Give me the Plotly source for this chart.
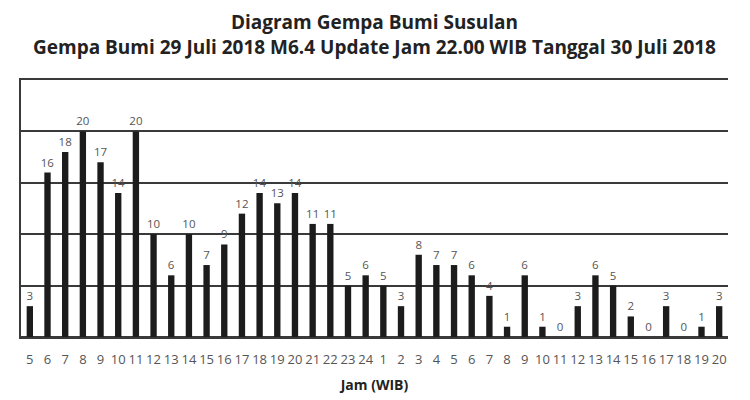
import plotly.graph_objects as go

hours = ["5","6","7","8","9","10","11","12","13","14","15","16","17","18","19","20",
         "21","22","23","24","1","2","3","4","5","6","7","8","9","10","11","12","13",
         "14","15","16","17","18","19","20"]
counts = [3,16,18,20,17,14,20,10,6,10,7,9,12,14,13,14,11,11,5,6,
          5,3,8,7,7,6,4,1,6,1,0,3,6,5,2,0,3,0,1,3]

pos = list(range(len(hours)))
lbl_font = dict(family="Open Sans", size=11.5, color="#555555")

fig = go.Figure(go.Bar(
    x=pos, y=counts, text=[str(v) for v in counts],
    textposition="outside", cliponaxis=False, constraintext="none",
    textfont=lbl_font, outsidetextfont=lbl_font,
    marker=dict(color="#1c1c1c", line=dict(width=0)),
    width=0.36,
))

fig.update_layout(
    width=750, height=400,
    margin=dict(l=13, r=30, t=72, b=71, autoexpand=False),
    paper_bgcolor="white", plot_bgcolor="white",
    showlegend=False,
    title=dict(
        text="Diagram Gempa Bumi Susulan<br>Gempa Bumi 29 Juli 2018 M6.4 Update Jam 22.00 WIB Tanggal 30 Juli 2018",
        x=0.5, xanchor="center", xref="paper", y=0.9475, yanchor="top",
        font=dict(family="Open Sans", size=19, color="#222222", weight="bold"),
    ),
    xaxis=dict(
        tickmode="array", tickvals=pos, ticktext=hours,
        range=[-0.5, len(hours) - 0.5],
        showgrid=False, zeroline=False, ticks="",
        showline=True, mirror=True, linecolor="#3a3a3a", linewidth=1.5,
        ticklabelstandoff=10,
        tickfont=dict(family="Open Sans", size=13, color="#555555"),
        title=dict(text="<b>Jam (WIB)</b>", standoff=13,
                   font=dict(family="Open Sans", size=14, color="#222222")),
    ),
    yaxis=dict(
        range=[0, 25], dtick=5, showticklabels=False,
        showgrid=True, gridcolor="#3a3a3a", gridwidth=1.5,
        zeroline=True, zerolinecolor="#3a3a3a", zerolinewidth=1.5,
        showline=True, linecolor="#3a3a3a", linewidth=1.5, mirror=False,
        ticks="",
    ),
)

fig.write_html("out.html")
